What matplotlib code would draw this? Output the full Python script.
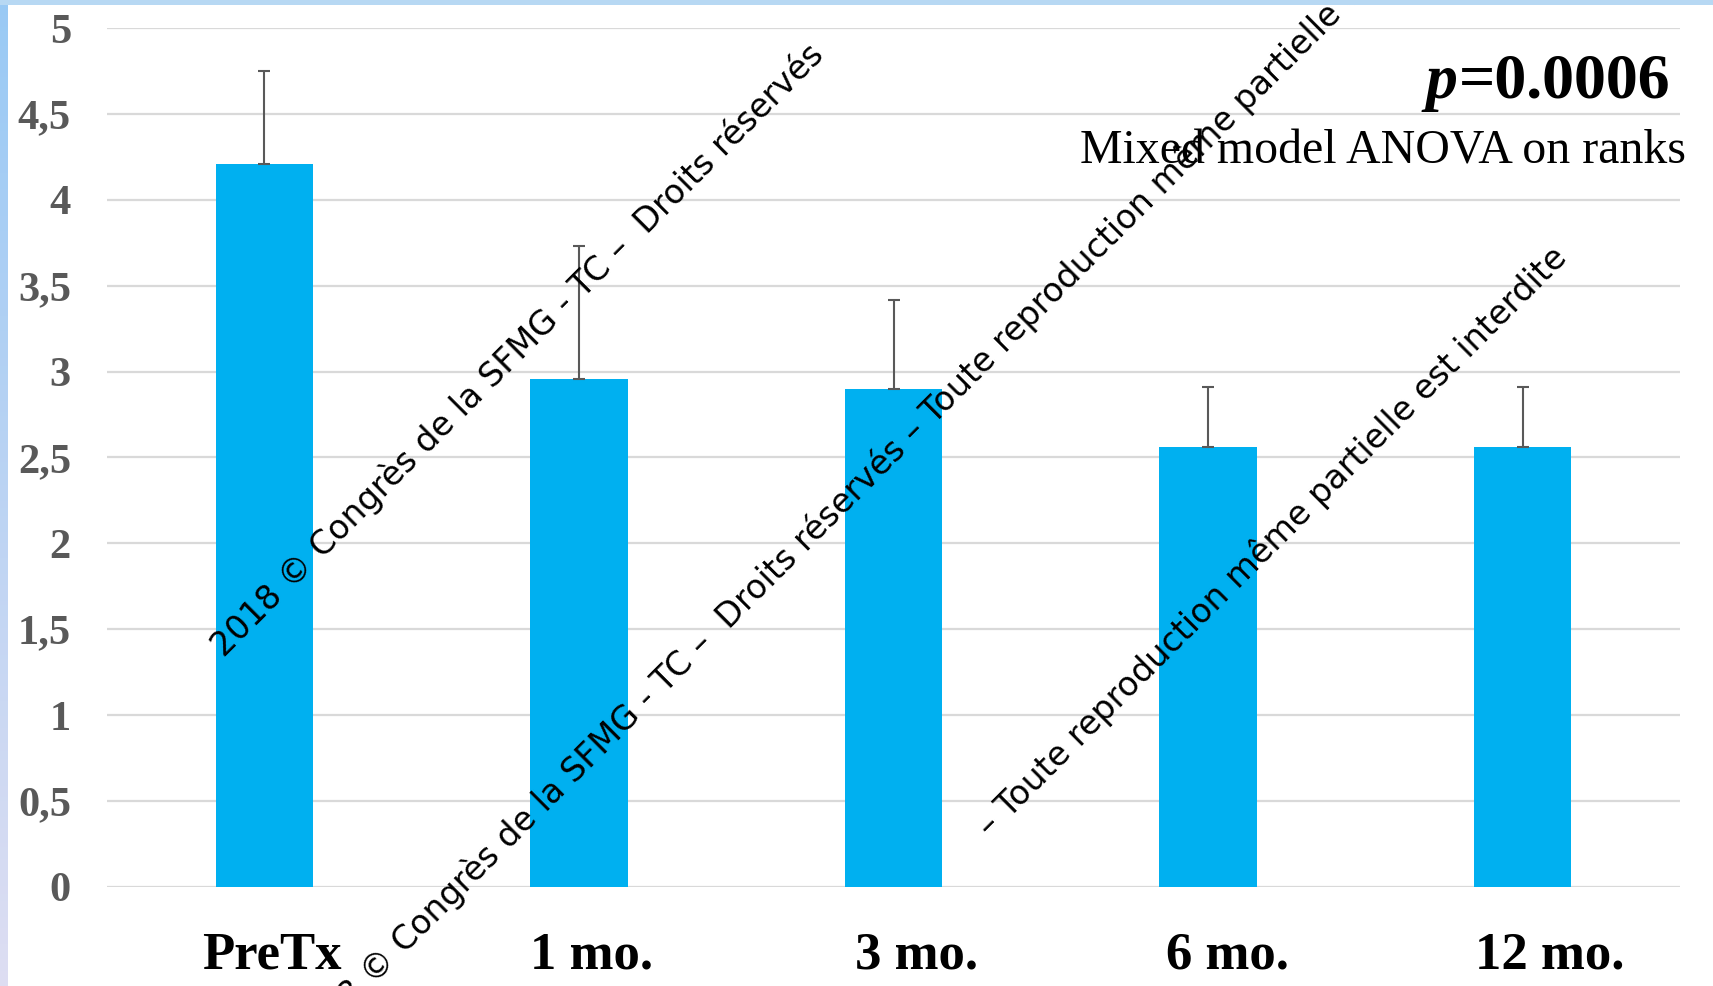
import matplotlib
matplotlib.use("Agg")
import matplotlib.pyplot as plt
import matplotlib.transforms as mtransforms
import numpy as np

# mean score per visit and upper error (SD)
labels = ["PreTx", "1 mo.", "3 mo.", "6 mo.", "12 mo."]
means = [4.21, 2.96, 2.90, 2.56, 2.56]
errors = [0.54, 0.77, 0.52, 0.35, 0.35]
yticks = [0, 0.5, 1, 1.5, 2, 2.5, 3, 3.5, 4, 4.5, 5]
ytick_labels = ["0", "0,5", "1", "1,5", "2", "2,5", "3", "3,5", "4", "4,5", "5"]

p_label = "=0.0006"
test_label = "Mixed model ANOVA on ranks"
wm_short = "2018 \u00a9 Congr\u00e8s de la SFMG - TC \u2013  Droits r\u00e9serv\u00e9s"
wm_long = wm_short + " \u2013 Toute reproduction m\u00eame partielle est interdite"
wm_tail = "\u2013 Toute reproduction m\u00eame partielle est interdite"

W, H = 1713, 986
serif = "Liberation Serif"

fig = plt.figure(figsize=(W / 100, H / 100), dpi=100)
fig.patch.set_facecolor("white")


def fx(px):
    return px / W


def fy(py):
    return 1 - py / H


ax = fig.add_axes([fx(107), fy(886.7), fx(1680 - 107), (886.7 - 28.3) / H])
x = np.arange(len(labels))
ax.bar(x, means, width=0.31, color="#00B0F0", zorder=2)
ax.errorbar(x, means, yerr=[np.zeros(len(errors)), errors], fmt="none",
            ecolor="#595959", elinewidth=1.5, capsize=4.5, capthick=1.5, zorder=3)

ax.set_xlim(-0.5, len(labels) - 0.5)
ax.set_ylim(0, 5)
ax.set_yticks(yticks)
ax.set_yticklabels(ytick_labels, fontfamily=serif, fontweight="bold",
                   fontsize=30.5, color="#595959")
ax.set_xticks(x)
ax.set_xticklabels(labels, fontfamily=serif, fontweight="bold",
                   fontsize=38, color="black")
ax.tick_params(axis="y", length=0, pad=26)
ax.tick_params(axis="x", length=0, pad=32)
# category labels sit a little right of their bars
shifts = [8, 13, 23, 19, 27]
for lab, dx in zip(ax.get_xticklabels(), shifts):
    lab.set_transform(lab.get_transform() +
                      mtransforms.ScaledTranslation(dx / 100, 0, fig.dpi_scale_trans))
ax.grid(axis="y", color="#D9D9D9", linewidth=1.6, zorder=0)
ax.set_axisbelow(True)
for s in ax.spines.values():
    s.set_visible(False)

# p-value and test name, top right
pt = fig.text(fx(1671), fy(98), p_label, ha="right", va="baseline",
              fontfamily=serif, fontweight="bold", fontsize=46)
r = fig.canvas.get_renderer()
bb = pt.get_window_extent(r)
fig.text(bb.x0 - 2, H - 98, "p", ha="right", va="baseline", transform=None,
         fontfamily=serif, fontweight="bold", fontstyle="italic", fontsize=46)
fig.text(fx(1686), fy(164), test_label, ha="right", va="baseline",
         fontfamily=serif, fontsize=34.5)

# diagonal watermark
wm_kw = dict(rotation=45, rotation_mode="anchor", ha="left", va="baseline",
             fontfamily="DejaVu Sans", fontsize=24, color="black", zorder=5)
fig.text(fx(224), fy(658), wm_short, **wm_kw)
fig.text(fx(306), fy(1053), wm_long, **wm_kw)
fig.text(fx(990), fy(838), wm_tail, **wm_kw)

# slide border: gradient strip on the left, band on top
left = fig.add_axes([0, 0, fx(8), 1], zorder=10)
grad = np.linspace(0, 1, 256)[:, None]
top_c = np.array([0.60, 0.79, 0.96])
bot_c = np.array([0.87, 0.87, 0.95])
img = top_c[None, None, :] * (1 - grad[:, :, None]) + bot_c[None, None, :] * grad[:, :, None]
left.imshow(img, aspect="auto", extent=[0, 1, 0, 1], origin="upper")
left.axis("off")
top = fig.add_axes([0, fy(5), 1, 5 / H], zorder=10)
top.set_facecolor("#B7D8F3")
top.set_xticks([])
top.set_yticks([])
for s in top.spines.values():
    s.set_visible(False)

fig.savefig("out.png", dpi=100)
